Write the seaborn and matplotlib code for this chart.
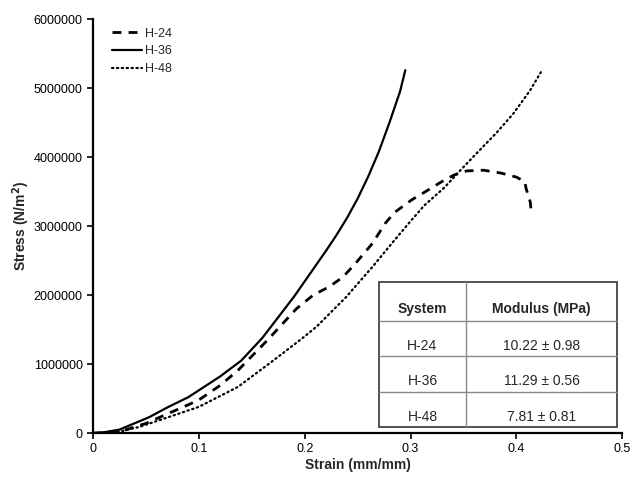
import numpy as np
import pandas as pd
import matplotlib
matplotlib.use("Agg")
import matplotlib.pyplot as plt
import seaborn as sns

# stress-strain curves (stress in N/m^2)
h24_strain = [0, 0.025, 0.05, 0.072, 0.09, 0.1, 0.12, 0.137, 0.165, 0.192, 0.208, 0.223, 0.236,
              0.248, 0.264, 0.276, 0.285, 0.301, 0.313, 0.329, 0.341, 0.353, 0.369, 0.385,
              0.400, 0.408, 0.409, 0.413, 0.414]
h24_stress = [0, 0.02e6, 0.14e6, 0.29e6, 0.41e6, 0.48e6, 0.69e6, 0.91e6, 1.35e6, 1.80e6, 2.0e6,
              2.12e6, 2.26e6, 2.46e6, 2.75e6, 3.04e6, 3.20e6, 3.38e6, 3.49e6, 3.64e6, 3.74e6,
              3.80e6, 3.81e6, 3.77e6, 3.71e6, 3.64e6, 3.55e6, 3.35e6, 3.20e6]

h36_strain = [0, 0.006, 0.025, 0.053, 0.07, 0.09, 0.1, 0.12, 0.14, 0.16, 0.18, 0.19, 0.2,
              0.21, 0.22, 0.23, 0.24, 0.25, 0.26, 0.27, 0.28, 0.29, 0.295]
h36_stress = [0, 0.0, 0.05e6, 0.23e6, 0.37e6, 0.52e6, 0.62e6, 0.82e6, 1.05e6, 1.38e6, 1.78e6,
              1.98e6, 2.2e6, 2.42e6, 2.64e6, 2.87e6, 3.12e6, 3.40e6, 3.72e6, 4.08e6, 4.50e6,
              4.95e6, 5.26e6]

h48_strain = [0, 0.025, 0.044, 0.1, 0.137, 0.171, 0.199, 0.211, 0.239, 0.264, 0.285, 0.301,
              0.313, 0.332, 0.344, 0.362, 0.381, 0.397, 0.413, 0.423]
h48_stress = [0, 0.02e6, 0.09e6, 0.38e6, 0.67e6, 1.06e6, 1.39e6, 1.54e6, 1.97e6, 2.41e6, 2.80e6,
              3.09e6, 3.30e6, 3.56e6, 3.76e6, 4.05e6, 4.35e6, 4.63e6, 4.97e6, 5.23e6]

systems = ["H-24", "H-36", "H-48"]
modulus = ["10.22 \u00b1 0.98", "11.29 \u00b1 0.56", "7.81 \u00b1 0.81"]

x_ticks = [0, 0.1, 0.2, 0.3, 0.4, 0.5]
y_ticks = [0, 1000000, 2000000, 3000000, 4000000, 5000000, 6000000]

sns.set_style("white")
plt.rcParams['font.family'] = ['Liberation Sans', 'DejaVu Sans']

fig = plt.figure(figsize=(6.37, 4.78), dpi=100)
ax = fig.add_axes([0.146, 0.094, 0.831, 0.866])

styles = {
    "H-24": dict(linestyle=(0, (3.2, 2.6)), linewidth=2.0),
    "H-36": dict(linestyle="-", linewidth=1.6),
    "H-48": dict(linestyle=(0, (0.6, 1.6)), linewidth=1.6, dash_capstyle="round"),
}
curves = {
    "H-24": (h24_strain, h24_stress),
    "H-36": (h36_strain, h36_stress),
    "H-48": (h48_strain, h48_stress),
}
for name in systems:
    xs, ys = curves[name]
    df = pd.DataFrame({"strain": xs, "stress": ys})
    sns.lineplot(data=df, x="strain", y="stress", ax=ax, sort=False, color="black",
                 label=name, **styles[name])

ax.set_xlim(0, 0.5)
ax.set_ylim(0, 6000000)
ax.set_xticks(x_ticks)
ax.set_xticklabels(["0", "0.1", "0.2", "0.3", "0.4", "0.5"])
ax.set_yticks(y_ticks)
ax.set_yticklabels([str(v) for v in y_ticks])
ax.tick_params(axis="both", direction="out", length=4, width=1.2, labelsize=9,
               colors="black", left=True, bottom=True)
for side in ["top", "right"]:
    ax.spines[side].set_visible(False)
for side in ["left", "bottom"]:
    ax.spines[side].set_color("black")
    ax.spines[side].set_linewidth(1.6)

ax.set_xlabel("Strain (mm/mm)", fontsize=10, fontweight="bold", labelpad=2)
ax.set_ylabel("Stress (N/m$^\\mathbf{2}$)", fontsize=10, fontweight="bold", labelpad=1)

leg = ax.legend(loc="upper left", bbox_to_anchor=(0.02, 1.0), frameon=False, fontsize=9,
                handlelength=2.4, handletextpad=0.2, labelspacing=0.45, borderaxespad=0.3)

# modulus table in the lower right corner
tx0, tx1 = 0.54, 0.99
ty0, ty1 = 0.0145, 0.365
col_split = tx0 + 0.366 * (tx1 - tx0)
header_h = 0.094
row_h = (ty1 - ty0 - header_h) / 3
ax.add_patch(plt.Rectangle((tx0, ty0), tx1 - tx0, ty1 - ty0, transform=ax.transAxes,
                           facecolor="white", edgecolor="#333333", linewidth=1.2, zorder=5))
ax.plot([col_split, col_split], [ty0, ty1], transform=ax.transAxes, color="#888888",
        linewidth=1.0, zorder=6)
for i in range(3):
    yl = ty1 - header_h - i * row_h
    ax.plot([tx0, tx1], [yl, yl], transform=ax.transAxes, color="#888888", linewidth=1.0, zorder=6)

ax.text((tx0 + col_split) / 2, ty1 - header_h + 0.012, "System", transform=ax.transAxes,
        ha="center", va="bottom", fontsize=10, fontweight="bold", zorder=7)
ax.text((col_split + tx1) / 2, ty1 - header_h + 0.012, "Modulus (MPa)", transform=ax.transAxes,
        ha="center", va="bottom", fontsize=10, fontweight="bold", zorder=7)
for i, (s, m) in enumerate(zip(systems, modulus)):
    yb = ty1 - header_h - (i + 1) * row_h + 0.008
    ax.text((tx0 + col_split) / 2, yb, s, transform=ax.transAxes, ha="center", va="bottom",
            fontsize=10, zorder=7)
    ax.text((col_split + tx1) / 2, yb, m, transform=ax.transAxes, ha="center", va="bottom",
            fontsize=10, zorder=7)

fig.savefig("out.png", dpi=100)
